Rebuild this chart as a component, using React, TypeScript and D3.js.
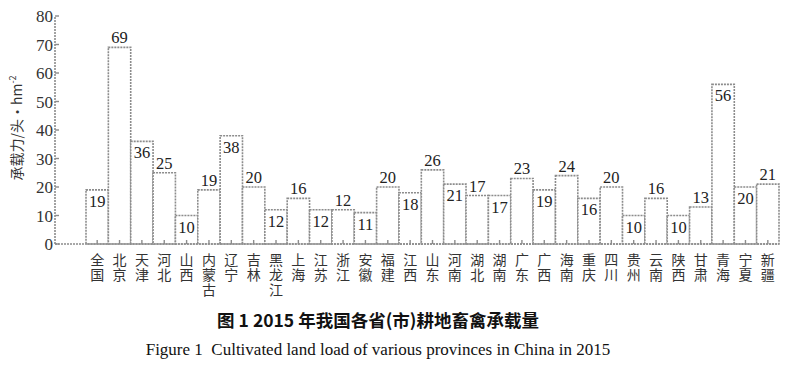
import React from 'react'
import { scaleBand, scaleLinear } from 'd3'

const provinces = ['全国', '北京', '天津', '河北', '山西', '内蒙古', '辽宁', '吉林', '黑龙江', '上海', '江苏', '浙江', '安徽', '福建', '江西', '山东', '河南', '湖北', '湖南', '广东', '广西', '海南', '重庆', '四川', '贵州', '云南', '陕西', '甘肃', '青海', '宁夏', '新疆']
const loads = [19, 69, 36, 25, 10, 19, 38, 20, 12, 16, 12, 12, 11, 20, 18, 26, 21, 17, 17, 23, 19, 24, 16, 20, 10, 16, 10, 13, 56, 20, 21]
// where the value label sits: true = inside the bar under its top
const labelInside = [true, false, true, false, true, false, true, false, true, false, true, false, true, false, true, false, true, false, true, false, true, false, true, false, true, false, true, false, true, true, false]
const yTicks = [0, 10, 20, 30, 40, 50, 60, 70, 80]

const W = 790
const H = 368
const axisX = 55
const serif = '"Liberation Serif", "DejaVu Serif", serif'
const cjk = '"Noto Sans CJK SC", sans-serif'
const stroke = '#8c8c8c'

const App = () => {
  const x = scaleBand().domain(provinces).range([86, 779]).padding(0)
  const y = scaleLinear().domain([0, 80]).range([244, 16])
  const cx = (p: string) => (x(p) as number) + x.bandwidth() / 2

  return (
    <svg width={W} height={H} style={{ position: 'absolute', left: 0, top: 0, background: '#fff' }}>
      {/* bars */}
      {provinces.map((p, i) => (
        <rect
          key={p}
          x={x(p)}
          y={y(loads[i])}
          width={x.bandwidth()}
          height={y(0) - y(loads[i])}
          fill="#fff"
          stroke={stroke}
          strokeWidth={1.6}
          strokeDasharray="2 1"
        />
      ))}
      {provinces.map((p, i) => (
        <text
          key={'v' + p}
          x={cx(p)}
          y={labelInside[i] ? y(loads[i]) + 17 : y(loads[i]) - 4}
          textAnchor="middle"
          fontFamily={serif}
          fontSize={16.5}
          fill="#222"
        >
          {loads[i]}
        </text>
      ))}

      {/* y axis */}
      <line x1={axisX} x2={axisX} y1={y(0)} y2={y(80)} stroke={stroke} strokeWidth={1.6} strokeDasharray="2 1" />
      {yTicks.map((t) => (
        <g key={t}>
          <line x1={axisX} x2={axisX + 4} y1={y(t)} y2={y(t)} stroke={stroke} strokeWidth={1.4} />
          <text x={axisX - 2} y={y(t) + 6} textAnchor="end" fontFamily={serif} fontSize={17} fill="#333">
            {t}
          </text>
        </g>
      ))}

      {/* x axis */}
      <line x1={axisX} x2={779} y1={y(0)} y2={y(0)} stroke={stroke} strokeWidth={1.6} strokeDasharray="2 1" />
      {provinces.map((p) => (
        <line key={'t' + p} x1={cx(p)} x2={cx(p)} y1={y(0)} y2={y(0) - 4} stroke={stroke} strokeWidth={1.4} />
      ))}
      {provinces.map((p) => (
        <text
          key={'l' + p}
          x={cx(p)}
          y={253}
          fontFamily={cjk}
          fontSize={14}
          letterSpacing={1}
          fill="#333"
          style={{ writingMode: 'vertical-rl', textOrientation: 'upright' }}
        >
          {p}
        </text>
      ))}

      {/* y title */}
      <text transform="translate(22,128) rotate(-90)" textAnchor="middle" fontFamily={cjk} fontSize={14} fill="#333">
        承载力/头·hm<tspan dy={-6} fontSize={9}>-2</tspan>
      </text>

      {/* captions */}
      <text x={378} y={327} textAnchor="middle" fontFamily={cjk} fontWeight="bold" fontSize={17.5} fill="#111">
        图 1 2015 年我国各省(市)耕地畜禽承载量
      </text>
      <text x={378} y={355} textAnchor="middle" fontFamily={serif} fontSize={17} fill="#111" style={{ whiteSpace: 'pre' }}>
        {'Figure 1  Cultivated land load of various provinces in China in 2015'}
      </text>
    </svg>
  )
}

export default App
